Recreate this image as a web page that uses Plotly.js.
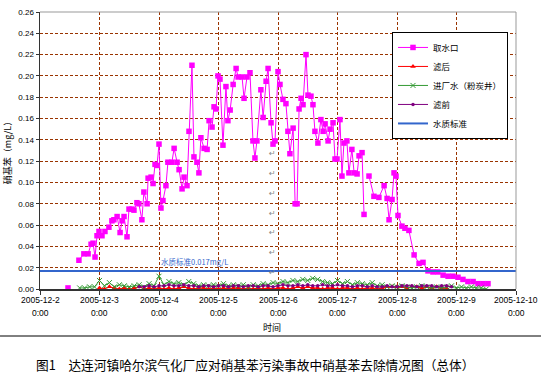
<!DOCTYPE html>
<html><head><meta charset="utf-8">
<script src="https://cdn.plot.ly/plotly-3.0.1.min.js"></script>
<style>html,body{margin:0;padding:0;background:#fff}#chart{width:541px;height:384px}</style>
</head><body><div id="chart"></div>
<script>
// ---- data (hours after 2005-12-02 00:00) ----
const intakeHours = [11.3,13.5,15.7,17.7,19.4,20.6,21.4,22.2,23.0,23.8,25.0,26.2,27.8,29.0,29.8,31.1,32.3,33.1,33.9,35.1,35.9,37.1,37.9,39.1,39.9,41.1,41.9,43.2,43.6,44.8,45.6,46.4,47.2,48.0,48.8,49.6,50.8,51.6,53.2,54.1,55.3,56.1,57.3,58.1,59.3,60.1,61.3,62.1,63.3,64.1,64.9,66.2,67.4,68.2,69.4,70.2,71.0,71.8,72.6,73.8,75.0,75.8,76.7,77.9,79.1,79.9,81.5,82.3,83.5,84.7,85.9,86.7,87.5,89.1,90.0,91.2,92.0,93.2,94.0,94.8,96.0,96.8,98.0,99.2,100.0,100.8,102.1,102.9,103.7,104.5,105.3,106.1,107.3,108.1,109.3,110.1,110.9,112.1,113.3,114.2,115.0,116.2,117.0,118.2,119.0,119.8,121.0,121.8,122.6,123.8,124.6,125.8,126.7,127.9,128.7,129.9,130.7,131.7,132.7,134.7,136.7,138.8,140.0,140.8,142.0,142.8,143.6,144.4,146.0,147.2,148.8,150.9,152.9,154.5,156.5,158.5,160.5,162.6,164.6,166.6,168.6,170.6,172.6,174.7,176.7,178.7,180.7];
const intakeValues = [0.001,null,0.027,0.033,0.033,0.042,0.043,0.030,0.050,0.054,0.050,0.054,0.058,0.064,0.065,0.068,0.053,0.064,0.068,0.049,0.075,0.075,0.074,0.081,0.080,0.065,0.091,0.080,0.104,0.105,0.099,0.117,0.116,0.136,0.076,0.083,0.097,0.119,0.119,0.132,0.119,0.112,0.094,0.105,0.097,0.148,0.210,0.124,0.119,0.109,0.142,0.132,0.131,0.158,0.152,0.171,0.169,0.200,0.197,0.135,0.190,0.158,0.168,0.192,0.207,0.199,0.199,0.179,0.199,0.203,0.139,0.123,0.139,0.187,0.161,0.195,0.207,0.156,0.136,0.139,0.204,0.192,0.178,0.174,0.148,0.127,0.151,0.080,0.080,0.169,0.179,0.173,0.220,0.182,0.181,0.173,0.148,0.137,0.159,0.148,0.155,0.139,0.150,0.156,0.122,0.122,0.159,0.106,0.137,0.139,0.109,0.131,0.109,0.108,0.125,0.128,0.070,null,0.106,0.087,0.086,0.097,0.085,0.065,0.084,0.109,0.106,0.069,0.059,0.057,0.055,0.032,0.024,0.025,0.017,0.016,0.016,0.013,0.012,0.012,0.011,0.009,0.007,0.007,0.005,0.005,0.005];

const lowHours = [16,18,20,22,24,26,28,30,32,34,36,38,40,42,44,46,48,50,52,54,56,58,60,62,64,66,68,70,72,74,76,78,80,82,84,86,88,90,92,94,96,98,100,102,104,106,108,110,112,114,116,118,120,122,124,126,128,130,132,134,136,138,140,142,144,146,148,150,152,154,156,158,160,162,164,166,168,170,172,174,176,178,180];
const filteredValues = [null,null,null,null,0.001,0.000,0.002,0.001,0.000,0.001,0.000,0.001,0.002,0.000,0.001,0.000,0.001,0.000,0.001,0.000,0.001,0.002,0.001,0.000,0.001,0.001,0.000,0.001,0.000,0.001,0.000,0.001,0.001,0.000,0.001,0.000,0.001,0.000,0.001,0.000,0.001,0.001,0.000,0.001,0.002,0.001,0.002,0.001,0.001,0.000,0.001,0.001,0.000,0.001,0.001,0.000,0.001,0.000,0.001,0.001,0.000,0.001,0.002,0.002,0.002,0.002,0.001,0.002,0.002,0.001,0.002,0.001,0.002,0.001,0.001,null,null,null,null,null,null,null,null];
const rawValues = [0.001,0.001,0.002,0.002,0.008,0.003,0.006,0.002,0.004,0.003,0.002,0.003,0.004,0.002,0.005,0.003,0.012,0.004,0.007,0.005,0.006,0.004,0.007,0.005,0.003,0.004,0.003,0.004,0.003,0.005,0.003,0.004,0.003,0.004,0.002,0.004,0.003,0.005,0.004,0.006,0.005,0.007,0.006,0.008,0.007,0.009,0.008,0.010,0.009,0.007,0.006,0.005,0.008,0.005,0.007,0.004,0.006,0.005,0.004,0.006,0.003,0.004,0.002,0.003,0.002,0.003,0.002,0.001,0.002,0.003,0.002,0.001,0.002,0.001,0.002,0.003,0.001,0.002,0.001,0.002,0.001,0.001,0.000];
const prefilterValues = [null,null,null,null,null,null,null,null,null,null,null,null,0.002,0.002,0.003,0.002,0.003,0.003,0.004,0.003,0.003,0.004,0.003,0.003,0.002,0.003,0.003,0.002,0.003,0.003,0.002,0.003,0.003,0.002,0.003,0.003,0.002,0.003,0.003,0.002,0.003,0.004,0.003,0.003,0.004,0.003,0.004,0.003,0.003,0.004,0.003,0.003,0.004,0.003,0.003,0.002,0.003,0.003,0.002,0.003,0.002,0.002,0.003,0.002,0.002,0.003,0.003,0.003,0.002,0.003,0.003,0.003,0.002,0.003,0.003,0.002,null,null,null,null,null,null,null];
const standardHours = [0,192];
const standardValues = [0.017,0.017];

const seriesNames = ['取水口','滤后','进厂水（粉炭井）','滤前','水质标准'];
const dayTicks = ['2005-12-02','2005-12-03','2005-12-04','2005-12-05','2005-12-06','2005-12-07','2005-12-08','2005-12-09','2005-12-10'];
const dayTickDates = ['2005-12-2','2005-12-3','2005-12-4','2005-12-5','2005-12-6','2005-12-7','2005-12-8','2005-12-9','2005-12-10'];
const dayTickTimes = ['0:00','0:00','0:00','0:00','0:00','0:00','0:00','0:00','0:00'];

function pad(n){return (n<10?'0':'')+n;}
function toDate(h){
  const d = new Date(Date.UTC(2005,11,2) + Math.round(h*3600000));
  return d.getUTCFullYear()+'-'+pad(d.getUTCMonth()+1)+'-'+pad(d.getUTCDate())+' '+pad(d.getUTCHours())+':'+pad(d.getUTCMinutes());
}

const CJK = '"Noto Sans CJK SC", "Liberation Sans", sans-serif';
const traces = [
  {x: intakeHours.map(toDate), y: intakeValues, name: seriesNames[0], mode:'lines+markers',
   line:{color:'#FF00FF', width:1}, marker:{symbol:'square', size:5.5, color:'#FF00FF'}},
  {x: lowHours.map(toDate), y: filteredValues, name: seriesNames[1], mode:'lines+markers',
   line:{color:'#FF0000', width:1}, marker:{symbol:'triangle-up', size:5, color:'#FF0000'}},
  {x: lowHours.map(toDate), y: rawValues, name: seriesNames[2], mode:'lines+markers',
   line:{color:'#339933', width:1}, marker:{symbol:'x-thin-open', size:5, color:'#339933', line:{color:'#339933', width:1}}},
  {x: lowHours.map(toDate), y: prefilterValues, name: seriesNames[3], mode:'lines+markers',
   line:{color:'#800080', width:1}, marker:{symbol:'circle', size:3.5, color:'#800080'}},
  {x: standardHours.map(toDate), y: standardValues, name: seriesNames[4], mode:'lines',
   line:{color:'#3366CC', width:2}}
];

const gridColor = '#993300';
const tickFont = {family:'"Liberation Sans", sans-serif', size:8.5, color:'#000'};
const tickAnnotations = [];
dayTicks.forEach((d, i) => {
  tickAnnotations.push({xref:'x', yref:'paper', x:d, y:(289-300)/277, xanchor:'center', yanchor:'middle',
    showarrow:false, text:dayTickDates[i], font:tickFont});
  tickAnnotations.push({xref:'x', yref:'paper', x:d, y:(289-313)/277, xanchor:'center', yanchor:'middle',
    showarrow:false, text:dayTickTimes[i], font:tickFont});
});
const returnMarks = [153,173,193,213,232,252,272].map(py => ({xref:'paper', yref:'paper', x:(272-40)/476, y:(289-py)/277,
  xanchor:'center', yanchor:'middle', showarrow:false, text:'↵', font:{family:'"DejaVu Sans", sans-serif', size:8, color:'#888'}}));

const layout = {
  width:541, height:384,
  margin:{l:40, r:25, t:12, b:95},
  paper_bgcolor:'#fff', plot_bgcolor:'#fff',
  font:{family:CJK, size:9, color:'#000'},
  showlegend:true,
  legend:{x:0.7395, y:0.928, xanchor:'left', yanchor:'top', bgcolor:'#fff', bordercolor:'#000', borderwidth:1,
          font:{family:CJK, size:8.5}, tracegroupgap:0},
  xaxis:{type:'date', range:['2005-12-02','2005-12-10'], tickmode:'array', tickvals:dayTicks, showticklabels:false,
         showgrid:true, gridcolor:gridColor, griddash:'3px,2px', gridwidth:1,
         showline:true, linecolor:'#333', linewidth:1.5, ticks:'outside', ticklen:4, tickcolor:'#333', zeroline:false},
  yaxis:{range:[0,0.26], tickmode:'linear', tick0:0, dtick:0.02, tickformat:'.2f',
         showgrid:true, gridcolor:gridColor, griddash:'3px,2px', gridwidth:1,
         showline:true, linecolor:'#333', linewidth:1.5, ticks:'outside', ticklen:3, tickcolor:'#333',
         tickfont:{family:'"Liberation Sans", sans-serif', size:8},
         title:{text:'硝基苯（mg/L）', font:{family:CJK, size:9}, standoff:5}, zeroline:false},
  shapes:[
    {type:'line', xref:'paper', yref:'paper', x0:0, x1:1, y0:1, y1:1, line:{color:'#999', width:1}},
    {type:'line', xref:'paper', yref:'paper', x0:1, x1:1, y0:0, y1:1, line:{color:'#999', width:1}},
    {type:'line', xref:'paper', yref:'paper', x0:-0.084, x1:1.0525, y0:-0.1697, y1:-0.1697, line:{color:'#000', width:1}}
  ],
  annotations:[
    {xref:'paper', yref:'paper', x:0.2506, y:0.0975, xanchor:'left', yanchor:'middle', showarrow:false,
     text:'水质标准0.017mg/L', font:{family:CJK, size:7.5, color:'#3366CC'}},
    {xref:'paper', yref:'paper', x:(272-40)/476, y:(289-327)/277, xanchor:'center', yanchor:'middle', showarrow:false,
     text:'时间', font:{family:CJK, size:9, color:'#000'}},
    {xref:'paper', yref:'paper', x:0.452, y:-0.274, xanchor:'center', yanchor:'middle', showarrow:false,
     text:'图1　达连河镇哈尔滨气化厂应对硝基苯污染事故中硝基苯去除情况图（总体）', font:{family:CJK, size:12.7, color:'#000'}}
  ].concat(tickAnnotations, returnMarks)
};

Plotly.newPlot('chart', traces, layout, {displayModeBar:false, staticPlot:true});
</script>
</body></html>
